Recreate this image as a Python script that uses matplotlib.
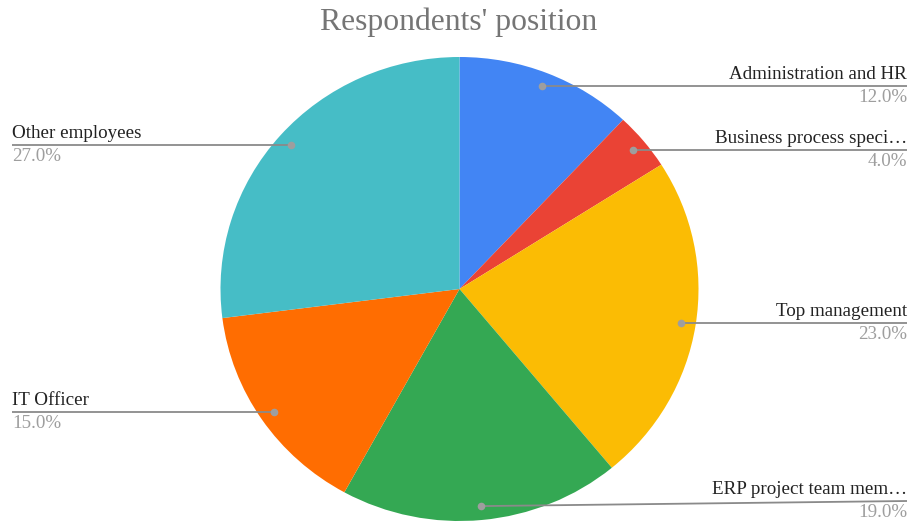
import matplotlib.pyplot as plt
import numpy as np

plt.rcParams['font.family'] = ['Liberation Serif', 'DejaVu Serif']

# data
labels = ["Administration and HR", "Business process speci\u2026", "Top management",
          "ERP project team mem\u2026", "IT Officer", "Other employees"]
values = [12.0, 4.0, 23.0, 19.0, 15.0, 27.0]
colors = ["#4285F4", "#EA4335", "#FBBC04", "#34A853", "#FF6D01", "#46BDC6"]

# layout (pixels)
W, H = 909, 522
cx, cy, rx, ry = 459.5, 289.0, 239.0, 232.0
# end of the leader line; None -> horizontal line
line_end_y = [None, None, None, 501, None, None]

fig = plt.figure(figsize=(W / 100, H / 100), dpi=100)

ax = fig.add_axes([(cx - rx) / W, 1 - (cy + ry) / H, 2 * rx / W, 2 * ry / H])
ax.pie(values, colors=colors, startangle=90, counterclock=False,
       wedgeprops=dict(linewidth=0))
ax.set_aspect('auto')
ax.set_xlim(-1, 1)
ax.set_ylim(-1, 1)
ax.axis('off')

# overlay in pixel coordinates
ov = fig.add_axes([0, 0, 1, 1], zorder=5)
ov.set_xlim(0, W)
ov.set_ylim(H, 0)
ov.axis('off')
ov.patch.set_alpha(0)

ov.text(459, 22, "Respondents' position", ha='center', va='center',
        fontsize=22.8, color='#757575')

total = sum(values)
cum = 0
for lab, v, ly in zip(labels, values, line_end_y):
    mid = (cum + v / 2) / total
    cum += v
    th = np.deg2rad(90 - 360 * mid)
    dx = cx + 0.94 * rx * np.cos(th)
    dy = cy - 0.94 * ry * np.sin(th)
    if ly is None:
        ly = dy
    right = np.cos(th) >= 0
    ex = 907 if right else 12
    ov.plot([dx, ex], [dy, ly], color='#8a8a8a', lw=1.3, solid_capstyle='butt')
    ov.plot(dx, dy, 'o', color='#9e9e9e', ms=5.5, mec='none')
    ha = 'right' if right else 'left'
    ov.text(ex, ly - 3, lab, ha=ha, va='bottom', fontsize=13.7, color='#222222')
    ov.text(ex, ly + 3, f"{v:.1f}%", ha=ha, va='top', fontsize=13.7, color='#9e9e9e')

fig.savefig("out.png", dpi=100)
